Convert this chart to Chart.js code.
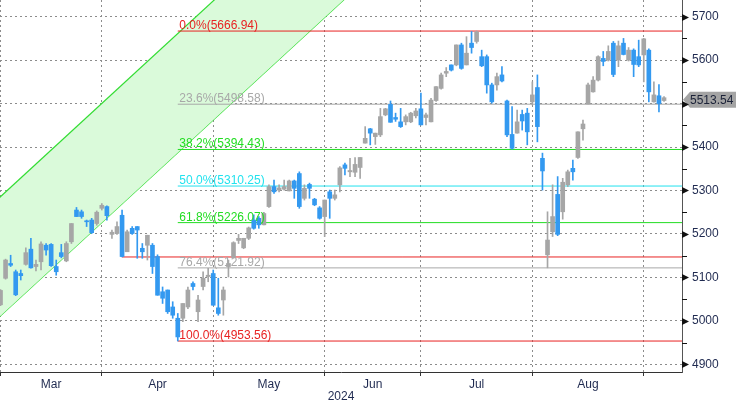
<!DOCTYPE html>
<html>
<head>
<meta charset="utf-8">
<script src="https://cdn.jsdelivr.net/npm/chart.js@4.4.0/dist/chart.umd.min.js"></script>
<style>
  html, body { margin: 0; padding: 0; background: #fff; }
  #wrap { width: 736px; height: 403px; position: relative; }
</style>
</head>
<body>
<div id="wrap"><canvas id="chart"></canvas></div>
<script>
// 일봉 데이터 (인덱스 0 = 2024-03-01, 거래일 기준)
const opens = [5037, 5098, 5132, 5113, 5109, 5130, 5165, 5125, 5136, 5174, 5176, 5125, 5157, 5138, 5182, 5255, 5251, 5230, 5232, 5224,
  5259, 5263, 5199, 5201, 5243, 5159, 5213, 5217, 5167, 5174, 5174, 5148, 5067, 5071, 5032, 5006, 5006, 5032, 5086, 5021, 5079, 5102,
  5109, 5030, 5048, 5125, 5146, 5185, 5168, 5190, 5232, 5236, 5221, 5263, 5309, 5301, 5303, 5299, 5322, 5339, 5282, 5314, 5280, 5260,
  5240, 5297, 5282, 5313, 5359, 5343, 5342, 5353, 5409, 5442, 5424, 5428, 5474, 5498, 5468, 5458, 5458, 5458, 5472,
  5488, 5468, 5458, 5507, 5535, 5570, 5589, 5589, 5635, 5589, 5639, 5643, 5608, 5608, 5543, 5543, 5566, 5506, 5429, 5432, 5475, 5478,
  5504, 5537, 5374, 5152, 5205, 5291, 5251, 5313, 5351, 5376, 5442, 5499, 5527, 5554, 5604, 5600, 5639, 5600, 5639, 5600, 5623, 5608,
  5612, 5623, 5504, 5518, 5507];
const highs = [5072, 5142, 5151, 5117, 5117, 5168, 5190, 5140, 5182, 5178, 5178, 5140, 5176, 5182, 5224, 5261, 5255, 5232, 5236, 5253,
  5270, 5265, 5209, 5228, 5255, 5209, 5217, 5217, 5178, 5197, 5178, 5152, 5078, 5071, 5044, 5017, 5040, 5078, 5090, 5059, 5113, 5121,
  5117, 5098, 5078, 5140, 5182, 5199, 5190, 5216, 5244, 5240, 5250, 5313, 5324, 5313, 5324, 5324, 5324, 5343, 5313, 5317, 5282, 5263,
  5278, 5301, 5301, 5355, 5363, 5374, 5376, 5376, 5447, 5443, 5432, 5489, 5489, 5506, 5478, 5489, 5474, 5480, 5489,
  5524, 5478, 5512, 5539, 5570, 5583, 5589, 5635, 5639, 5654, 5666, 5666.94, 5623, 5612, 5547, 5570, 5585, 5508, 5493, 5485, 5485, 5489,
  5550, 5566, 5386, 5251, 5313, 5332, 5328, 5347, 5370, 5435, 5462, 5547, 5562, 5610, 5620, 5633, 5643, 5644, 5650, 5629, 5626, 5646,
  5650, 5626, 5550, 5544, 5516];
const lows = [5035, 5096, 5125, 5058, 5094, 5128, 5121, 5115, 5117, 5151, 5125, 5105, 5145, 5136, 5178, 5240, 5236, 5217, 5201, 5220,
  5255, 5232, 5190, 5199, 5147, 5159, 5199, 5144, 5144, 5140, 5109, 5059, 5040, 5017, 5006, 4953.56, 4998, 5028, 5071, 4998, 5071, 5090,
  5036, 5013, 5013, 5101, 5144, 5178, 5166, 5187, 5211, 5213, 5221, 5261, 5293, 5297, 5301, 5299, 5282, 5259, 5278, 5282, 5265, 5234,
  5194, 5236, 5278, 5297, 5336, 5332, 5332, 5328, 5409, 5405, 5406, 5424, 5472, 5457, 5459, 5445, 5451, 5456, 5467,
  5451, 5451, 5458, 5505, 5533, 5562, 5575, 5587, 5579, 5589, 5616, 5639, 5585, 5524, 5501, 5531, 5550, 5424, 5395, 5432, 5439, 5405,
  5497, 5412, 5301, 5122, 5194, 5196, 5234, 5309, 5324, 5374, 5416, 5499, 5526, 5552, 5587, 5598, 5562, 5585, 5612, 5598, 5562, 5585,
  5550, 5504, 5503, 5481, 5505];
const closes = [5070, 5140, 5128, 5060, 5104, 5157, 5122, 5130, 5177, 5163, 5127, 5113, 5148, 5178, 5224, 5240, 5240, 5228, 5203, 5250,
  5266, 5242, 5204, 5217, 5148, 5205, 5201, 5209, 5159, 5197, 5125, 5059, 5052, 5021, 5013, 4963, 5040, 5071, 5079, 5048, 5098, 5105,
  5036, 5017, 5071, 5132, 5180, 5190, 5190, 5214, 5213, 5221, 5247, 5309, 5297, 5306, 5309, 5322, 5305, 5263, 5305, 5305, 5267, 5236,
  5278, 5282, 5290, 5352, 5351, 5346, 5360, 5376, 5420, 5432, 5432, 5470, 5488, 5457, 5464, 5447, 5470, 5478, 5483,
  5451, 5474, 5508, 5539, 5566, 5574, 5577, 5635, 5581, 5616, 5629, 5665, 5587, 5543, 5504, 5562, 5552, 5428, 5397, 5458, 5460, 5435,
  5520, 5447, 5345, 5186, 5240, 5199, 5319, 5343, 5343, 5435, 5453, 5543, 5554, 5608, 5597, 5620, 5567, 5633, 5613, 5623, 5590, 5589,
  5649, 5527, 5520, 5500, 5513.54];

// 월 구분 (각 월 첫 거래일 인덱스, 마지막은 9월 시작)
const monthStarts = [0, 20, 42, 64, 83, 105, 127];
const monthNames = ['Mar', 'Apr', 'May', 'Jun', 'Jul', 'Aug'];
const yearLabel = '2024';

// 피보나치 되돌림 (저점 인덱스 35부터)
const fibStart = 35;
const fibPercents = ['0.0%', '23.6%', '38.2%', '50.0%', '61.8%', '76.4%', '100.0%'];
const fibValues = [5666.94, 5498.58, 5394.43, 5310.25, 5226.07, 5121.92, 4953.56];
const fibColors = ['#e82222', '#a8a8a8', '#22dd22', '#22e2ee', '#22dd22', '#a8a8a8', '#e82222'];

// 수평 지지선
const supportStart = 24;
const supportValue = 5147;

// 상승 채널 (두 평행선의 양 끝점)
const channelX = [-1, 80];
const channelUpper = [5275, 6144];
const channelLower = [5001, 5870];

// 축 범위
const xMin = -0.1, xMax = 134.55;
const yMin = 4882.3, yMax = 5738.4;

const BLUE = '#3399f0';
const GRAY = '#a6a6a6';
const GRID = '#8c8c8c';
const AXIS_TEXT = '#1f2a50';
const FONT = '"Liberation Sans", Arial, sans-serif';

const idx = closes.map((_, i) => i);
const candleColors = idx.map(i => closes[i] < opens[i] ? BLUE : GRAY);
const monthLabelPos = monthNames.map((_, k) => (monthStarts[k] + monthStarts[k + 1]) / 2);
const xTickValues = monthStarts.concat(monthLabelPos).sort((a, b) => a - b);

// 피보나치 라인 데이터셋
const fibDatasets = fibValues.map((v, k) => ({
  type: 'line',
  data: [{ x: fibStart, y: v }, { x: xMax, y: v }],
  borderColor: fibColors[k],
  borderWidth: 1,
  pointRadius: 0,
  order: 2
}));

// 피보나치 라벨
const fibLabelPlugin = {
  id: 'fibLabels',
  afterDatasetsDraw(chart) {
    const { ctx, scales: { x, y } } = chart;
    ctx.save();
    ctx.font = '12px ' + FONT;
    ctx.textBaseline = 'alphabetic';
    fibValues.forEach((v, k) => {
      ctx.fillStyle = fibColors[k];
      ctx.fillText(fibPercents[k] + '(' + v.toFixed(2) + ')', x.getPixelForValue(fibStart) + 1.5, y.getPixelForValue(v) - 2);
    });
    ctx.restore();
  }
};

// 가격축 화살표 눈금 + 현재가 태그
const axisDecorPlugin = {
  id: 'axisDecor',
  afterDraw(chart) {
    const { ctx, chartArea, scales: { y } } = chart;
    const ax = chartArea.right;
    ctx.save();

    // 현재가 태그
    const last = closes[closes.length - 1];
    const py = y.getPixelForValue(last) + 2;
    ctx.fillStyle = '#a4a4a4';
    ctx.beginPath();
    ctx.moveTo(ax + 1, py);
    ctx.lineTo(ax + 8, py - 8);
    ctx.lineTo(chart.width, py - 8);
    ctx.lineTo(chart.width, py + 8);
    ctx.lineTo(ax + 8, py + 8);
    ctx.closePath();
    ctx.fill();
    ctx.fillStyle = '#1b2238';
    ctx.font = '12px ' + FONT;
    ctx.textBaseline = 'middle';
    ctx.fillText(last.toFixed(2), ax + 8, py + 1);

    // 눈금
    ctx.fillStyle = '#111';
    y.ticks.forEach(t => {
      const ty = Math.round(y.getPixelForValue(t.value)) + 0.5;
      ctx.beginPath();
      ctx.moveTo(ax, ty - 3.5);
      ctx.lineTo(ax + 7, ty);
      ctx.lineTo(ax, ty + 3.5);
      ctx.closePath();
      ctx.fill();
      const my = Math.round(y.getPixelForValue(t.value + 50));
      if (my > chartArea.top) ctx.fillRect(ax, my, 5, 1);
    });
    ctx.restore();
  }
};

new Chart(document.getElementById('chart'), {
  type: 'bar',
  data: {
    datasets: [
      {
        type: 'bar',
        data: idx.map(i => ({ x: i, y: [lows[i], highs[i]] })),
        backgroundColor: candleColors,
        barThickness: 1,
        grouped: false,
        order: 1
      },
      {
        type: 'bar',
        data: idx.map(i => ({ x: i, y: [opens[i], closes[i]] })),
        backgroundColor: candleColors,
        barThickness: 4,
        minBarLength: 1,
        grouped: false,
        order: 0
      },
      ...fibDatasets,
      {
        type: 'line',
        data: [{ x: supportStart, y: supportValue }, { x: xMax, y: supportValue }],
        borderColor: '#e82222',
        borderWidth: 1,
        pointRadius: 0,
        order: 2
      },
      {
        type: 'line',
        data: channelX.map((x, k) => ({ x, y: channelUpper[k] })),
        borderColor: '#33dd33',
        borderWidth: 1.2,
        backgroundColor: '#dafada',
        fill: '+1',
        pointRadius: 0,
        order: 3
      },
      {
        type: 'line',
        data: channelX.map((x, k) => ({ x, y: channelLower[k] })),
        borderColor: '#33dd33',
        borderWidth: 1.2,
        pointRadius: 0,
        fill: false,
        order: 4
      }
    ]
  },
  options: {
    responsive: true,
    maintainAspectRatio: false,
    animation: false,
    layout: { padding: 0 },
    plugins: {
      legend: { display: false },
      tooltip: { enabled: false }
    },
    scales: {
      x: {
        type: 'linear',
        min: xMin,
        max: xMax,
        offset: false,
        afterBuildTicks(scale) {
          scale.ticks = xTickValues.map(v => ({ value: v }));
        },
        afterFit(scale) {
          scale.height = 31;
          scale.paddingLeft = 0;
          scale.paddingRight = 0;
        },
        grid: {
          offset: false,
          color: c => (c.tick && monthStarts.includes(c.tick.value)) ? GRID : 'rgba(0,0,0,0)',
          tickColor: c => (c.tick && monthStarts.includes(c.tick.value)) ? '#333' : 'rgba(0,0,0,0)',
          tickLength: 4,
          drawTicks: true
        },
        border: { display: true, color: '#333', width: 1, dash: [2, 3] },
        ticks: {
          autoSkip: false,
          maxRotation: 0,
          padding: 1,
          color: AXIS_TEXT,
          font: { family: FONT, size: 12 },
          callback(value) {
            const k = monthLabelPos.indexOf(value);
            return k >= 0 ? monthNames[k] : '';
          }
        },
        title: {
          display: true,
          text: yearLabel,
          color: AXIS_TEXT,
          font: { family: FONT, size: 12 },
          padding: { top: 0, bottom: -1 }
        }
      },
      y: {
        type: 'linear',
        position: 'right',
        min: yMin,
        max: yMax,
        afterFit(scale) {
          scale.width = 54;
          scale.paddingTop = 0;
          scale.paddingBottom = 0;
        },
        grid: { color: GRID, drawTicks: false },
        border: { display: true, color: '#555', width: 1, dash: [2, 3] },
        ticks: {
          stepSize: 100,
          includeBounds: false,
          padding: 10,
          color: AXIS_TEXT,
          font: { family: FONT, size: 12 },
          callback: v => String(v)
        }
      }
    }
  },
  plugins: [fibLabelPlugin, axisDecorPlugin]
});
</script>
</body>
</html>
